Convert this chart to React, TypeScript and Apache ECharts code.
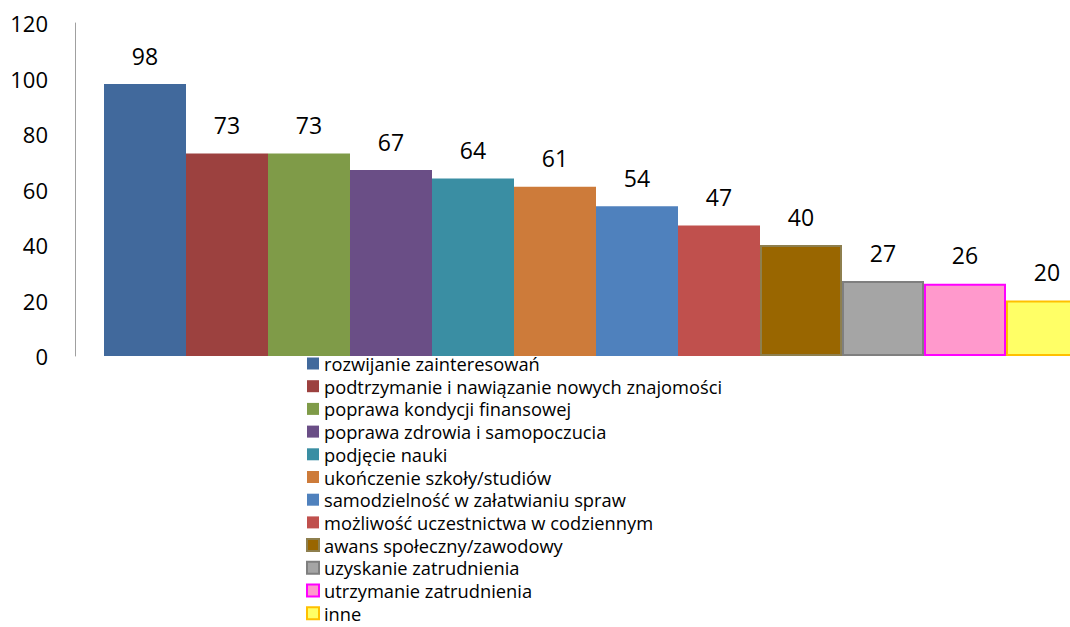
import React, { useEffect, useRef } from "react";
import * as echarts from "echarts";

const categories = [
  "rozwijanie zainteresowań",
  "podtrzymanie i nawiązanie nowych znajomości",
  "poprawa kondycji finansowej",
  "poprawa zdrowia i samopoczucia",
  "podjęcie nauki",
  "ukończenie szkoły/studiów",
  "samodzielność w załatwianiu spraw",
  "możliwość uczestnictwa w codziennym",
  "awans społeczny/zawodowy",
  "uzyskanie zatrudnienia",
  "utrzymanie zatrudnienia",
  "inne",
];
const values = [98, 73, 73, 67, 64, 61, 54, 47, 40, 27, 26, 20];
const fills = [
  "#41699C", "#9C413F", "#7F9B48", "#6A4E86", "#3A8EA3", "#CD7B3A",
  "#4F81BD", "#C0504D", "#996600", "#A5A5A5", "#FF99CC", "#FFFF66",
];
const borders = [
  null, null, null, null, null, null, null, null,
  "#8E7F4E", "#7F7F7F", "#FF00FF", "#FFC000",
];
const yTicks = [0, 20, 40, 60, 80, 100, 120];

const FONT = "'Open Sans', sans-serif";

export default function App() {
  const ref = useRef<HTMLDivElement>(null);
  useEffect(() => {
    if (!ref.current) return;
    const chart = echarts.init(ref.current, null, { renderer: "svg" });
    chart.setOption({
      animation: false,
      backgroundColor: "#ffffff",
      textStyle: { fontFamily: FONT },
      grid: { left: 122, right: 0, top: 23, bottom: 271, containLabel: false },
      legend: {
        orient: "vertical",
        left: 306,
        top: 354.5,
        padding: 0,
        height: 300,
        itemWidth: 12,
        itemHeight: 12,
        itemGap: 4.7,
        icon: "rect",
        textStyle: { fontFamily: FONT, fontSize: 18.3, color: "#000" },
        data: categories,
      },
      xAxis: {
        type: "category",
        data: [""],
        show: false,
      },
      yAxis: {
        type: "value",
        offset: 47,
        min: yTicks[0],
        max: yTicks[yTicks.length - 1],
        interval: 20,
        axisLine: { show: true, lineStyle: { color: "#A0A0A0", width: 1 } },
        axisTick: { show: false },
        splitLine: { show: false },
        axisLabel: { fontFamily: FONT, fontSize: 22, color: "#000", margin: 27 },
      },
      series: categories.map((name, i) => ({
        name,
        type: "bar",
        clip: false,
        data: [values[i]],
        barWidth: 82,
        barGap: "0%",
        itemStyle: {
          color: fills[i],
          borderColor: borders[i] || fills[i],
          borderWidth: borders[i] ? 2 : 0,
        },
        label: {
          show: true,
          position: "top",
          distance: 17,
          fontFamily: FONT,
          fontSize: 23,
          color: "#000",
        },
      })),
    });
    return () => chart.dispose();
  }, []);
  return (
    <div
      ref={ref}
      style={{ position: "fixed", left: 0, top: 0, width: 1070, height: 627 }}
    />
  );
}
